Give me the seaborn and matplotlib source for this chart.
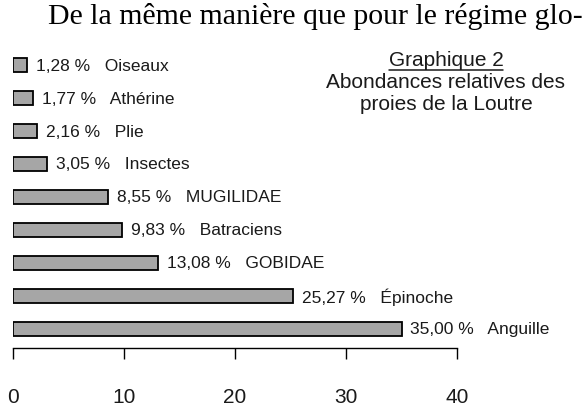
import matplotlib
matplotlib.use("Agg")
import matplotlib.pyplot as plt
from matplotlib.lines import Line2D
import seaborn as sns
import pandas as pd

# Prey categories and relative abundances (%), top to bottom
prey = ["Oiseaux", "Athérine", "Plie", "Insectes", "MUGILIDAE",
        "Batraciens", "GOBIDAE", "Épinoche", "Anguille"]
abundance = [1.28, 1.77, 2.16, 3.05, 8.55, 9.83, 13.08, 25.27, 35.00]
x_ticks = [0, 10, 20, 30, 40]

df = pd.DataFrame({"Proie": prey, "Abondance": abundance})

sns.set_style("white")
plt.rcParams['font.family'] = ['Liberation Sans', 'DejaVu Sans']

fig = plt.figure(figsize=(5.88, 4.10), dpi=100)
ax = fig.add_axes([13 / 588, 1 - 349 / 410, (457 - 13) / 588, (349 - 40) / 410])

sns.barplot(data=df, x="Abondance", y="Proie", orient="h", ax=ax,
            color="#a6a6a6", saturation=1, edgecolor="black",
            linewidth=1.3, width=0.4)

# value + name labels next to bars
for i, (v, name) in enumerate(zip(abundance, prey)):
    lab = f"{v:.2f}".replace(".", ",") + " %   " + name
    ax.text(v + 0.8, i, lab, va="center", ha="left", fontsize=12.5,
            color="#1a1a1a")

ax.set_xlim(0, 40)
ax.set_ylim(8.576, -0.788)
ax.set_xticks(x_ticks)
ax.set_xticklabels([str(t) for t in x_ticks], fontsize=15, color="#1a1a1a")
ax.tick_params(axis="x", direction="out", length=8, width=1, color="black",
               pad=20, bottom=True)
ax.set_yticks([])
ax.set_xlabel("")
ax.set_ylabel("")
for s in ["top", "right", "left"]:
    ax.spines[s].set_visible(False)
ax.spines["bottom"].set_color("black")
ax.spines["bottom"].set_linewidth(1)

# chart caption
cx = 446 / 588
t1 = fig.text(cx, 1 - 60 / 410, "Graphique 2", ha="center", va="center",
              fontsize=15, color="#1a1a1a")
fig.text(cx, 1 - 83 / 410, "Abondances relatives des", ha="center",
         va="center", fontsize=15, color="#1a1a1a")
fig.text(cx, 1 - 105 / 410, "proies de la Loutre", ha="center",
         va="center", fontsize=15, color="#1a1a1a")

# surrounding page text
fig.text(583 / 588, 1 - 17 / 410, "De la même manière que pour le régime glo-",
         ha="right", va="center", fontsize=21.5, family="Liberation Serif",
         color="black")

# underline "Graphique 2"
fig.canvas.draw()
bb = t1.get_window_extent().transformed(fig.transFigure.inverted())
fig.add_artist(Line2D([bb.x0, bb.x1], [bb.y0 - 0.004, bb.y0 - 0.004],
                      transform=fig.transFigure, color="#1a1a1a", lw=1.1))

fig.savefig("out.png", dpi=100)
